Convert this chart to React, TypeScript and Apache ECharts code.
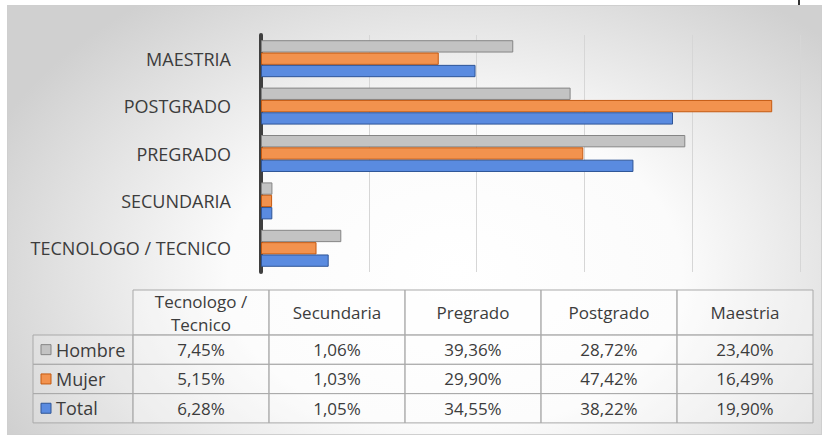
import React, { useEffect, useRef } from "react";
import * as echarts from "echarts";

// ---- data ----
const categories = ["TECNOLOGO / TECNICO", "SECUNDARIA", "PREGRADO", "POSTGRADO", "MAESTRIA"];
const tableHeaders = ["Tecnologo /\nTecnico", "Secundaria", "Pregrado", "Postgrado", "Maestria"];
const seriesNames = ["Hombre", "Mujer", "Total"];
const hombre = [7.45, 1.06, 39.36, 28.72, 23.4];
const mujer = [5.15, 1.03, 29.9, 47.42, 16.49];
const total = [6.28, 1.05, 34.55, 38.22, 19.9];
const axisMin = 0;
const axisMax = 50;
const axisInterval = 10;

const seriesValues = [hombre, mujer, total];
const fills = ["#c3c3c3", "#f2924e", "#5a8be0"];
const borders = ["#858585", "#c55a11", "#2f5597"];

const fmt = (v: number) => v.toFixed(2).replace(".", ",") + "%";

const FONT = "'Open Sans', sans-serif";
const TXT = "#3c3c3c";

function buildTable() {
  const els: any[] = [];
  const colX0 = 133;
  const colW = 136;
  const headTop = 290;
  const headH = 45;
  const rowH = 29.3;
  const legX = 33;
  const legW = colX0 - legX;
  const line = "#a9a9a9";

  tableHeaders.forEach((h, i) => {
    const x = colX0 + i * colW;
    els.push({
      type: "rect",
      shape: { x, y: headTop, width: colW, height: headH },
      style: { fill: "rgba(255,255,255,0.35)", stroke: line, lineWidth: 1 },
    });
    els.push({
      type: "text",
      x: x + colW / 2,
      y: headTop + headH / 2,
      style: {
        text: h,
        fill: TXT,
        font: `17px ${FONT}`,
        align: "center",
        verticalAlign: "middle",
        lineHeight: 23,
      },
    });
  });

  seriesNames.forEach((name, r) => {
    const y = headTop + headH + r * rowH;
    els.push({
      type: "rect",
      shape: { x: legX, y, width: legW, height: rowH },
      style: { fill: "rgba(255,255,255,0.15)", stroke: line, lineWidth: 1 },
    });
    els.push({
      type: "rect",
      shape: { x: legX + 8, y: y + rowH / 2 - 5, width: 10, height: 10 },
      style: { fill: fills[r], stroke: borders[r], lineWidth: 1 },
    });
    els.push({
      type: "text",
      x: legX + 23,
      y: y + rowH / 2,
      style: { text: name, fill: TXT, font: `18px ${FONT}`, align: "left", verticalAlign: "middle" },
    });
    seriesValues[r].forEach((v, i) => {
      const x = colX0 + i * colW;
      els.push({
        type: "rect",
        shape: { x, y, width: colW, height: rowH },
        style: { fill: "rgba(255,255,255,0.35)", stroke: line, lineWidth: 1 },
      });
      els.push({
        type: "text",
        x: x + colW / 2,
        y: y + rowH / 2,
        style: { text: fmt(v), fill: TXT, font: `17px ${FONT}`, align: "center", verticalAlign: "middle" },
      });
    });
  });
  return els;
}

export default function App() {
  const ref = useRef<HTMLDivElement>(null);
  useEffect(() => {
    if (!ref.current) return;
    const chart = echarts.init(ref.current, undefined, { renderer: "svg" });
    chart.setOption({
      animation: false,
      grid: { left: 261, top: 35, width: 539, height: 237, containLabel: false },
      xAxis: {
        type: "value",
        min: axisMin,
        max: axisMax,
        interval: axisInterval,
        axisLabel: { show: false },
        axisLine: { show: false },
        axisTick: { show: false },
        splitLine: { show: true, lineStyle: { color: "#d6d6d6", width: 1 } },
      },
      yAxis: {
        type: "category",
        data: categories,
        axisLine: { show: true, lineStyle: { color: "#3f3f3f", width: 4 } },
        axisTick: { show: false },
        axisLabel: { color: TXT, fontSize: 18, fontFamily: FONT, margin: 30 },
      },
      series: seriesNames.map((name, k) => ({
        type: "bar",
        name,
        data: seriesValues[k],
        barGap: "0%",
        barCategoryGap: "22%",
        itemStyle: { color: fills[k], borderColor: borders[k], borderWidth: 1 },
      })),
      graphic: [
        { type: "rect", shape: { x: 798, y: 0, width: 2, height: 5 }, style: { fill: "#333" } },
        ...buildTable(),
      ],
    });
    return () => chart.dispose();
  }, []);
  return (
    <div style={{ position: "fixed", left: 0, top: 0, width: 824, height: 441, background: "#ffffff" }}>
      <div
        style={{
          position: "absolute",
          left: 7,
          top: 5,
          width: 815,
          height: 430,
          boxSizing: "border-box",
          border: "1px solid #cfcfcf",
          background:
            "radial-gradient(ellipse 62% 80% at 55% 62%, #ffffff 0%, #fbfbfb 45%, #d0d0d0 100%)",
        }}
      />
      <div ref={ref} style={{ position: "absolute", left: 0, top: 0, width: 824, height: 441 }} />
    </div>
  );
}
